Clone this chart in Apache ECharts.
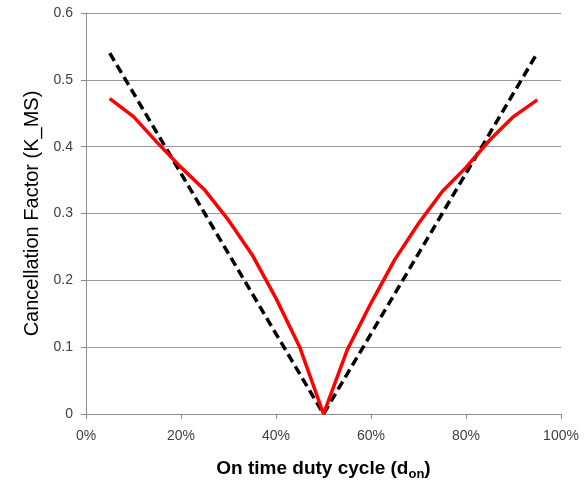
<!DOCTYPE html>
<html>
<head>
<meta charset="utf-8">
<script src="https://cdn.jsdelivr.net/npm/echarts@6/dist/echarts.min.js"></script>
<style>
  html, body { margin: 0; padding: 0; background: #fff; }
  #chart { width: 584px; height: 481px; }
</style>
</head>
<body>
<div id="chart"></div>
<script>
// duty cycle (fraction of period)
const dutyCycle = [0.05, 0.10, 0.15, 0.20, 0.25, 0.30, 0.35, 0.40, 0.45, 0.50,
                   0.55, 0.60, 0.65, 0.70, 0.75, 0.80, 0.85, 0.90, 0.95]
// measured / simulated cancellation factor (red)
const kRed = [0.472, 0.445, 0.406, 0.369, 0.335, 0.290, 0.238, 0.173, 0.100, 0.0,
              0.096, 0.166, 0.231, 0.285, 0.333, 0.369, 0.410, 0.445, 0.470]
// ideal cancellation factor (black dashed)
const kIdeal = [0.54, 0.48, 0.42, 0.36, 0.30, 0.24, 0.18, 0.12, 0.06, 0.0,
                0.06, 0.12, 0.18, 0.24, 0.30, 0.36, 0.42, 0.48, 0.54]

const xTicks = [0, 0.2, 0.4, 0.6, 0.8, 1.0]
const yTicks = [0, 0.1, 0.2, 0.3, 0.4, 0.5, 0.6]

const toPairs = ys => dutyCycle.map((x, i) => [x, ys[i]])

const chart = echarts.init(document.getElementById('chart'), null, { renderer: 'canvas' })

const FONT = 'Liberation Sans, Arial, sans-serif'
const tickFont = { color: '#404040', fontSize: 14, fontFamily: FONT }

chart.setOption({
  backgroundColor: '#fff',
  animation: false,
  grid: { left: 86, right: 23, top: 13, bottom: 67, outerBoundsMode: 'none' },
  xAxis: {
    type: 'value',
    min: xTicks[0], max: xTicks[xTicks.length - 1], interval: 0.2,
    name: '{b|On time duty cycle (d}{s|on}{b|)}',
    nameLocation: 'middle', nameGap: 42,
    nameTextStyle: {
      rich: {
        b: { fontSize: 19, fontWeight: 'bold', color: '#000', fontFamily: FONT },
        s: { fontSize: 13, fontWeight: 'bold', color: '#000', fontFamily: FONT, padding: [12, 0, 0, 0] },
      },
    },
    axisLine: { lineStyle: { color: '#8c8c8c', width: 1 } },
    axisTick: { show: true, length: 5, lineStyle: { color: '#8c8c8c' } },
    axisLabel: { ...tickFont, margin: 15, formatter: v => Math.round(v * 100) + '%' },
    splitLine: { show: false },
  },
  yAxis: {
    type: 'value',
    min: yTicks[0], max: yTicks[yTicks.length - 1], interval: 0.1,
    name: 'Cancellation Factor (K_MS)',
    nameLocation: 'middle', nameGap: 43,
    nameTextStyle: { fontSize: 20, color: '#000', fontFamily: FONT },
    axisLine: { show: true, lineStyle: { color: '#8c8c8c', width: 1 } },
    axisTick: { show: true, length: 5, lineStyle: { color: '#8c8c8c' } },
    axisLabel: { ...tickFont, margin: 13, formatter: v => (v === 0 ? '0' : v.toFixed(1)) },
    splitLine: { lineStyle: { color: '#999', width: 1 } },
  },
  series: [
    {
      type: 'line', name: 'ideal', data: toPairs(kIdeal), symbol: 'none',
      lineStyle: { color: '#000', width: 3.5, type: [9, 5] },
      z: 2,
    },
    {
      type: 'line', name: 'measured', data: toPairs(kRed), symbol: 'none',
      lineStyle: { color: '#ff0000', width: 3.5 },
      z: 3,
    },
  ],
})
</script>
</body>
</html>
